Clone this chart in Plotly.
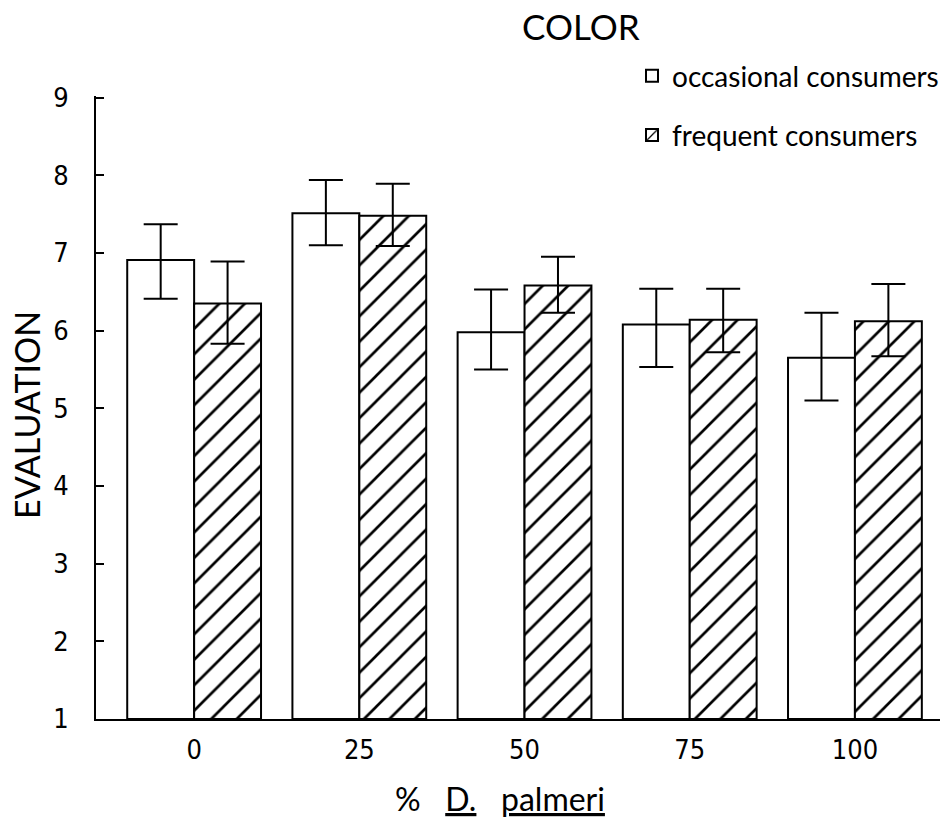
import plotly.graph_objects as go

categories = ["0", "25", "50", "75", "100"]
occasional = [6.91, 7.51, 5.98, 6.08, 5.65]
occasional_err_plus = [0.46, 0.43, 0.55, 0.46, 0.58]
occasional_err_minus = [0.50, 0.41, 0.48, 0.55, 0.55]
frequent = [6.35, 7.48, 6.58, 6.14, 6.12]
frequent_err_plus = [0.54, 0.41, 0.37, 0.40, 0.48]
frequent_err_minus = [0.52, 0.39, 0.35, 0.42, 0.45]
y_ticks = [1, 2, 3, 4, 5, 6, 7, 8, 9]

W, H = 947, 824
ML, MR, MT, MB = 96, 7, 96, 105
PW = W - ML - MR
PH = H - MT - MB

def px_x(page_x):
    return (page_x - ML) / PW

def px_y(page_y):
    return (H - MB - page_y) / PH

fig = go.Figure()
fig.add_trace(go.Bar(
    x=categories, y=[v - 1 for v in occasional], base=1,
    name="occasional consumers", legendgroup="a",
    marker=dict(color="white", line=dict(color="black", width=2)),
    error_y=dict(type="data", symmetric=False, array=occasional_err_plus,
                 arrayminus=occasional_err_minus, color="black", thickness=2, width=17),
))
fig.add_trace(go.Bar(
    x=categories, y=[v - 1 for v in frequent], base=1,
    name="frequent consumers", legendgroup="b",
    marker=dict(color="white", line=dict(color="black", width=2),
                pattern=dict(shape="/", fgcolor="black", bgcolor="white", fgopacity=1,
                             size=18, solidity=0.15)),
    error_y=dict(type="data", symmetric=False, array=frequent_err_plus,
                 arrayminus=frequent_err_minus, color="black", thickness=2, width=17),
))

tick_font = dict(family="DejaVu Sans Condensed, DejaVu Sans", size=27, color="black")
text_font = dict(family="Lato", size=28, color="black")

fig.update_layout(
    width=W, height=H,
    margin=dict(l=ML, r=MR, t=MT, b=MB, autoexpand=False),
    paper_bgcolor="white", plot_bgcolor="white",
    barmode="group", bargap=0.19, bargroupgap=0,
    showlegend=True,
    legend=dict(x=px_x(632), y=px_y(51), xanchor="left", yanchor="top",
                font=text_font, tracegroupgap=20, bgcolor="rgba(0,0,0,0)",
                itemwidth=30),
    xaxis=dict(range=[-0.594, 4.515], showline=True, linecolor="black", linewidth=2,
               showgrid=False, zeroline=False, ticks="", tickfont=tick_font,
               ticklabelstandoff=6),
    yaxis=dict(range=[1, 9.02], tickvals=y_ticks, showline=True, linecolor="black", linewidth=2,
               showgrid=False, zeroline=False, ticks="inside", ticklen=8, tickwidth=2,
               tickcolor="black", tickfont=tick_font, ticklabelstandoff=20),
    annotations=[
        dict(text="COLOR", x=px_x(581), y=px_y(26), xref="paper", yref="paper",
             xanchor="center", yanchor="middle",
             showarrow=False, font=dict(family="Lato", size=35, color="black")),
        dict(text="EVALUATION", x=px_x(26), y=px_y(415), xref="paper", yref="paper",
             xanchor="center", yanchor="middle",
             showarrow=False, textangle=-90, font=dict(family="Lato", size=34, color="black")),
        dict(text="%   <u>D.</u>   <u>palmeri</u>", x=px_x(500), y=px_y(798), xref="paper", yref="paper",
             xanchor="center", yanchor="middle",
             showarrow=False, font=dict(family="Lato", size=32, color="black")),
    ],
)

fig.write_html("out.html", config={"displayModeBar": False},
               post_script="document.body.style.margin='0';document.body.style.overflow='hidden';")
